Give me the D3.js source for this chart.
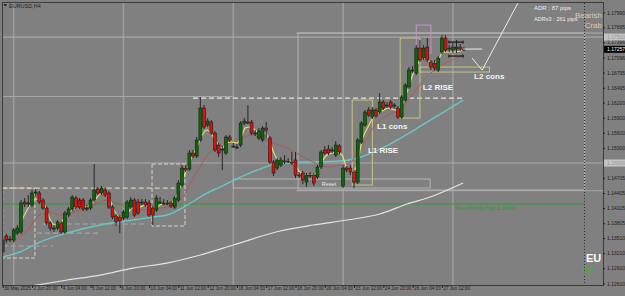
<!DOCTYPE html>
<html>
<head>
<meta charset="utf-8">
<script src="https://cdn.jsdelivr.net/npm/d3@7"></script>
<style>
  body { margin: 0; background: #808080; }
  svg { display: block; }
  text { font-family: "Liberation Sans", "DejaVu Sans", sans-serif; }
</style>
</head>
<body>
<div id="wrapper"></div>
<script>
// EURUSD H4, 30 May 2025 12:00 -> 30 Jun 2025 12:00 (127 bars)
const opens = [1.13233,1.13551,1.13491,1.13471,1.13610,1.13630,1.14225,1.14186,1.14166,1.14404,1.14404,1.14265,1.14106,1.13809,1.13709,1.13709,1.13809,1.13630,1.13967,1.14086,1.14305,1.14265,1.14265,1.14106,1.14106,1.14265,1.14483,1.14404,1.14464,1.14404,1.14126,1.13948,1.13928,1.13908,1.13928,1.14126,1.14265,1.14225,1.14225,1.14225,1.14206,1.14106,1.14067,1.14225,1.14206,1.14206,1.14206,1.14126,1.14265,1.14563,1.14900,1.14880,1.15198,1.15139,1.15456,1.16091,1.15754,1.15813,1.15595,1.15357,1.15258,1.15198,1.15516,1.15337,1.15317,1.15357,1.15793,1.15813,1.15813,1.15595,1.15496,1.15456,1.15694,1.15496,1.15019,1.14900,1.14960,1.15039,1.15039,1.15019,1.15059,1.14761,1.14801,1.14622,1.14761,1.14761,1.14722,1.14920,1.15258,1.15277,1.15258,1.15158,1.15337,1.14543,1.14900,1.14900,1.14821,1.14622,1.15416,1.15754,1.16052,1.15913,1.16052,1.16012,1.16210,1.16151,1.16210,1.16151,1.16091,1.15913,1.16250,1.16508,1.16846,1.16786,1.17282,1.17084,1.17302,1.17004,1.16984,1.16846,1.17203,1.17481,1.17282,1.17243,1.17262,1.17302,1.17262];
const highs = [1.13531,1.13590,1.13551,1.13709,1.13769,1.14265,1.14305,1.14364,1.14464,1.14483,1.14444,1.14305,1.14146,1.13848,1.13769,1.13868,1.13848,1.14047,1.14126,1.14364,1.14345,1.14305,1.14305,1.14166,1.14305,1.14980,1.14523,1.14543,1.14503,1.14444,1.14166,1.13987,1.13967,1.14067,1.14265,1.14325,1.14305,1.14285,1.14285,1.14285,1.14265,1.14146,1.14364,1.14325,1.14285,1.14265,1.14245,1.14345,1.14662,1.14960,1.14960,1.15258,1.15258,1.15516,1.16310,1.16151,1.15893,1.15853,1.15635,1.15397,1.15337,1.15555,1.15555,1.15397,1.15377,1.15833,1.15893,1.16151,1.15853,1.15655,1.15694,1.15734,1.15813,1.15535,1.15059,1.15099,1.15119,1.15158,1.15099,1.15218,1.15218,1.14821,1.14841,1.14801,1.14821,1.14801,1.14960,1.15258,1.15337,1.15357,1.15317,1.15436,1.15377,1.14960,1.14940,1.14960,1.14861,1.15496,1.15833,1.16052,1.16111,1.16111,1.16091,1.16389,1.16250,1.16210,1.16250,1.16190,1.16131,1.16349,1.16587,1.16905,1.16925,1.17342,1.17441,1.17342,1.17481,1.17044,1.17044,1.17123,1.17540,1.17540,1.17342,1.17381,1.17441,1.17362,1.17302];
const lows = [1.13173,1.13412,1.13431,1.13431,1.13570,1.13590,1.14126,1.14126,1.14126,1.14345,1.14186,1.14067,1.13769,1.13650,1.13630,1.13670,1.13590,1.13590,1.13928,1.14047,1.14086,1.14086,1.14047,1.14047,1.14067,1.14225,1.14364,1.14364,1.14325,1.14086,1.13888,1.13749,1.13610,1.13868,1.13888,1.14086,1.13928,1.13967,1.14166,1.14126,1.13928,1.13769,1.14027,1.14186,1.14166,1.14166,1.14106,1.14086,1.14225,1.14523,1.14821,1.14841,1.15099,1.15099,1.15416,1.15674,1.15714,1.15555,1.15218,1.15119,1.14861,1.15158,1.15416,1.15297,1.15277,1.15317,1.15754,1.15774,1.15555,1.15535,1.15456,1.15416,1.15496,1.14980,1.14742,1.14861,1.14920,1.14980,1.15000,1.14960,1.14702,1.14702,1.14583,1.14523,1.14702,1.14543,1.14682,1.14880,1.15158,1.15158,1.15198,1.15119,1.15178,1.14503,1.14821,1.14761,1.14503,1.14583,1.15377,1.15714,1.15913,1.15873,1.15893,1.15972,1.16052,1.16091,1.16071,1.16091,1.15873,1.15873,1.16210,1.16468,1.16786,1.16746,1.17004,1.17044,1.17004,1.16846,1.16826,1.16806,1.17163,1.17203,1.17203,1.17183,1.17183,1.17223,1.17223];
const closes = [1.13471,1.13471,1.13491,1.13670,1.13709,1.14206,1.14186,1.14206,1.14404,1.14424,1.14225,1.14106,1.13809,1.13709,1.13709,1.13828,1.13630,1.14007,1.14086,1.14325,1.14126,1.14126,1.14086,1.14106,1.14265,1.14464,1.14404,1.14503,1.14364,1.14126,1.13928,1.13828,1.13848,1.14027,1.14225,1.14265,1.13967,1.14007,1.14225,1.14166,1.13967,1.13967,1.14305,1.14225,1.14206,1.14206,1.14146,1.14305,1.14603,1.14900,1.14861,1.15198,1.15139,1.15456,1.16091,1.15714,1.15833,1.15595,1.15258,1.15198,1.15277,1.15516,1.15456,1.15337,1.15317,1.15793,1.15833,1.15813,1.15595,1.15595,1.15635,1.15694,1.15655,1.15019,1.14801,1.15059,1.15059,1.15039,1.15039,1.15019,1.14761,1.14761,1.14662,1.14761,1.14761,1.14603,1.14920,1.15218,1.15198,1.15198,1.15258,1.15357,1.15218,1.14900,1.14861,1.14821,1.14622,1.15456,1.15793,1.16012,1.15952,1.16052,1.15933,1.16210,1.16091,1.16151,1.16111,1.16151,1.15913,1.16310,1.16548,1.16846,1.16846,1.17282,1.17044,1.17282,1.17044,1.16905,1.16885,1.17084,1.17481,1.17243,1.17282,1.17302,1.17302,1.17262,1.17257];

// indicator lines: [bar, price]
const maFast = [[5,1.13828],[7.5,1.14166],[9,1.14285],[10.5,1.14265],[12,1.14067],[13,1.13868],[14.3,1.13769],[15.6,1.13809],[17,1.13908],[18.4,1.14027],[19.8,1.14126],[21,1.14166],[22.5,1.14126],[23.9,1.14166],[25.2,1.14265],[26.6,1.14384],[28,1.14404],[29.3,1.14265],[30.7,1.14027],[32,1.13928],[33.4,1.13967],[34.8,1.14067],[36.1,1.14126],[37.5,1.14126],[38.9,1.14166],[40.2,1.14106],[41.6,1.14086],[43,1.14166],[44.3,1.14206],[45.7,1.14186],[47.6,1.14364],[49,1.14622],[50.4,1.14900],[51.7,1.15119],[53.1,1.15317],[54.5,1.15555],[55.8,1.15655],[57.2,1.15555],[58.6,1.15397],[59.9,1.15297],[61.3,1.15397],[62.6,1.15416],[64,1.15397],[65.4,1.15555],[66.2,1.15694],[67.6,1.15714],[68.9,1.15655],[70.3,1.15595],[71.7,1.15595],[73,1.15416],[74,1.15218],[75.2,1.15059],[76.6,1.15019],[78.5,1.15039],[79.9,1.14960],[81.2,1.14821],[83.1,1.14761],[84.5,1.14761],[85.9,1.14821],[87.2,1.15019],[88.6,1.15158],[90,1.15198],[91.3,1.15218],[92.7,1.15158],[94,1.14900],[95.4,1.14821],[96.8,1.14960],[98.2,1.15456],[99.8,1.15714],[101.7,1.15952],[103.6,1.16032],[105.3,1.16091],[107.2,1.16052],[109.1,1.16151],[110.5,1.16409],[111.8,1.16707],[113.2,1.16945],[114.6,1.17084],[116,1.17044],[117.6,1.16984],[119,1.17044],[120.3,1.17203],[121.7,1.17203],[123.6,1.17203],[125.8,1.17243]];
const maMid = [[2,1.13372],[4.7,1.13531],[7.5,1.13729],[9.4,1.13928],[12.9,1.14027],[15.7,1.13967],[18.4,1.14007],[21.1,1.14067],[24.7,1.14166],[28.5,1.14265],[31.2,1.14206],[35.6,1.14067],[39.4,1.14067],[43,1.14106],[46.5,1.14146],[48.4,1.14265],[50.4,1.14464],[52,1.14702],[53.9,1.14920],[55.8,1.15158],[57.5,1.15258],[59.4,1.15317],[62.1,1.15397],[64.8,1.15456],[67.6,1.15555],[70.3,1.15516],[73.8,1.15397],[77.7,1.15297],[81.2,1.15158],[84.8,1.15019],[88.6,1.14920],[92.2,1.14960],[94.9,1.15000],[97,1.15218],[99,1.15416],[101.7,1.15754],[105.3,1.15952],[109.1,1.16091],[111.8,1.16349],[114.6,1.16607],[117.3,1.16806],[120,1.16945],[122.8,1.17044],[125.8,1.17143]];
const maSlow = [[0,1.13134],[4.7,1.13233],[10.2,1.13431],[17.6,1.13610],[26.6,1.13769],[35.6,1.13868],[41.1,1.13928],[44.9,1.13967],[50.4,1.14166],[55.8,1.14404],[59.4,1.14523],[66.2,1.14761],[70.3,1.14880],[75.8,1.14999],[83.1,1.15019],[92,1.15039],[96,1.15079],[105.3,1.15357],[114.6,1.15754],[125.8,1.16250]];
const ma200 = [[0,1.12459],[9.4,1.12578],[17.6,1.12677],[26.6,1.12776],[35.6,1.12915],[44.9,1.13014],[54,1.13173],[63,1.13372],[75.8,1.13650],[84.8,1.13769],[94.1,1.13868],[103,1.13987],[110.5,1.14186],[116.8,1.14325],[125.8,1.14603]];

const timeTickBars = [0,8,16,24,32,40,48,56,64,72,80,88,96,104,112,120];
const timeTickLabels = ["30 May 2025","2 Jun 20:00","4 Jun 04:00","5 Jun 12:00","6 Jun 20:00","10 Jun 04:00","11 Jun 12:00","12 Jun 20:00","16 Jun 04:00","17 Jun 12:00","18 Jun 20:00","20 Jun 04:00","23 Jun 12:00","24 Jun 20:00","26 Jun 04:00","27 Jun 12:00"];
const priceTicks = [1.17990,1.17695,1.17396,1.17096,1.16795,1.16495,1.16200,1.15900,1.15600,1.15300,1.14705,1.14405,1.14105,1.13805,1.13510,1.13210,1.12910,1.12610];
const weekStarts = [3,33,63,93,123];

const dims = { width: 625, height: 296, left: 3, right: 603, top: 3, bottom: 285 };

const svg = d3.select("#wrapper").append("svg")
  .attr("width", dims.width)
  .attr("height", dims.height);

svg.append("rect").attr("width", dims.width).attr("height", dims.height).attr("fill", "#808080");

const x = d3.scaleLinear().domain([0, 126]).range([2.7, 2.7 + 126 * 3.66]);
const y = d3.scaleLinear().domain([1.12610, 1.17990]).range([283.4, 12.4]);

svg.append("clipPath").attr("id", "clip")
  .append("rect")
  .attr("x", dims.left).attr("y", dims.top)
  .attr("width", dims.right - dims.left).attr("height", dims.bottom - dims.top);

const bounds = svg.append("g").attr("clip-path", "url(#clip)");

// weekly separators
bounds.selectAll(".sep").data(weekStarts).join("line")
  .attr("x1", d => x(d)).attr("x2", d => x(d))
  .attr("y1", dims.top).attr("y2", dims.bottom)
  .attr("stroke", "#9c9c9c").attr("stroke-width", 1.6);

// horizontal levels
const hLines = [
  { p: 1.17500, x0: 0, x1: 170, color: "#b0b0b0" },
  { p: 1.17580, x0: 81, x1: 170, color: "#b0b0b0" },
  { p: 1.16320, x0: 0, x1: 63, color: "#a8a8a8" },
  { p: 1.15000, x0: 0, x1: 170, color: "#ababab" },
  { p: 1.14450, x0: 81, x1: 170, color: "#a8a8a8" }
];
bounds.selectAll(".hl").data(hLines).join("line")
  .attr("x1", d => x(d.x0) - 3).attr("x2", d => Math.min(x(d.x1), dims.right))
  .attr("y1", d => y(d.p)).attr("y2", d => y(d.p))
  .attr("stroke", d => d.color).attr("stroke-width", 1);

// dashed zones
const dashed = [
  { b0: 0, b1: 8.8, p0: 1.14503, p1: 1.13114, color: "#ddd0c0" },
  { b0: 40.8, b1: 49.8, p0: 1.14980, p1: 1.13749, color: "#ddd0c0" }
];
bounds.selectAll(".dz").data(dashed).join("rect")
  .attr("x", d => x(d.b0)).attr("y", d => y(d.p0))
  .attr("width", d => x(d.b1) - x(d.b0)).attr("height", d => y(d.p1) - y(d.p0))
  .attr("fill", "none").attr("stroke", d => d.color)
  .attr("stroke-width", 1).attr("stroke-dasharray", "4,2");

const dashLines = [
  { b0: 0, b1: 47, p: 1.14503, color: "#ddd0c0" },
  { b0: 52, b1: 126, p: 1.16290, color: "#e6e6e6" },
  { b0: 11, b1: 39.5, p: 1.13789, color: "#a6a6a6" },
  { b0: 9.4, b1: 26.6, p: 1.13610, color: "#a6a6a6" },
  { b0: 0, b1: 13.7, p: 1.13352, color: "#a6a6a6" }
];
bounds.selectAll(".dl").data(dashLines).join("line")
  .attr("x1", d => x(d.b0)).attr("x2", d => x(d.b1))
  .attr("y1", d => y(d.p)).attr("y2", d => y(d.p))
  .attr("stroke", d => d.color).attr("stroke-width", 1.2).attr("stroke-dasharray", "5,3");

// boxes
const boxes = [
  { b0: 63, b1: 116.8, p0: 1.14682, p1: 1.14503, color: "#b4b4b4" },
  { b0: 80.7, b1: 159, p0: 1.17580, p1: 1.14464, color: "#b4b4b4" },
  { b0: 95.5, b1: 101, p0: 1.16250, p1: 1.14563, color: "#c8c080" },
  { b0: 108.6, b1: 114, p0: 1.17481, p1: 1.15893, color: "#c8c080" },
  { b0: 114, b1: 133, p0: 1.16905, p1: 1.16806, color: "#c8c080" },
  { b0: 113, b1: 117, p0: 1.17739, p1: 1.17183, color: "#c890c8" }
];
bounds.selectAll(".bx").data(boxes).join("rect")
  .attr("x", d => x(d.b0)).attr("y", d => y(d.p0))
  .attr("width", d => x(d.b1) - x(d.b0)).attr("height", d => y(d.p1) - y(d.p0))
  .attr("fill", "none").attr("stroke", d => d.color).attr("stroke-width", 1);

// prev monthly high
bounds.append("line")
  .attr("x1", dims.left).attr("x2", x(158.8))
  .attr("y1", y(1.14186)).attr("y2", y(1.14186))
  .attr("stroke", "#2f9a2f").attr("stroke-width", 1);

// moving averages
const line = d3.line().x(d => x(d[0])).y(d => y(d[1])).curve(d3.curveMonotoneX);
bounds.append("path").attr("d", line(ma200)).attr("fill", "none").attr("stroke", "#e4e4e4").attr("stroke-width", 1.2);
bounds.append("path").attr("d", line(maSlow)).attr("fill", "none").attr("stroke", "#6cc4c4").attr("stroke-width", 1.4);
bounds.append("path").attr("d", line(maMid)).attr("fill", "none").attr("stroke", "#b05858").attr("stroke-width", 1);
bounds.append("path").attr("d", line(maFast)).attr("fill", "none").attr("stroke", "#ece468").attr("stroke-width", 1.1);

// candles
const bars = opens.map((o, i) => ({ i, o, h: highs[i], l: lows[i], c: closes[i] }));
const candles = bounds.append("g");
candles.selectAll(".wick").data(bars).join("line")
  .attr("x1", d => x(d.i)).attr("x2", d => x(d.i))
  .attr("y1", d => y(d.h)).attr("y2", d => y(d.l))
  .attr("stroke", "#262626").attr("stroke-width", 1);
candles.selectAll(".body").data(bars).join("rect")
  .attr("x", d => x(d.i) - 1.45)
  .attr("y", d => y(Math.max(d.o, d.c)))
  .attr("width", 2.9)
  .attr("height", d => Math.max(1, Math.abs(y(d.o) - y(d.c))))
  .attr("fill", d => d.c >= d.o ? "#0a6a0a" : "#e01010")
  .attr("stroke", "#1a1a1a").attr("stroke-width", 0.6);

// drawn lines on the right
const whiteLines = [
  [[125.8, 1.17262], [131, 1.17262]],
  [[128.2, 1.17084], [131, 1.16845], [140.8, 1.18180]]
];
bounds.selectAll(".wl").data(whiteLines).join("path")
  .attr("d", d3.line().x(d => x(d[0])).y(d => y(d[1])))
  .attr("fill", "none").attr("stroke", "#ececec").attr("stroke-width", 1);

// black range brackets around the last bars
const brackets = [1.17401, 1.17123];
const bracketBars = [121.9, 125.8];
brackets.forEach(p => {
  bounds.append("line").attr("x1", x(bracketBars[0])).attr("x2", x(bracketBars[1]))
    .attr("y1", y(p)).attr("y2", y(p)).attr("stroke", "#111").attr("stroke-width", 1.2);
  bracketBars.forEach(b => {
    bounds.append("line").attr("x1", x(b)).attr("x2", x(b))
      .attr("y1", y(p) - 1.5).attr("y2", y(p) + 1.5).attr("stroke", "#111").attr("stroke-width", 1);
  });
});

// dotted shift line
bounds.append("line").attr("x1", 584.5).attr("x2", 584.5)
  .attr("y1", dims.top).attr("y2", dims.bottom)
  .attr("stroke", "#303030").attr("stroke-width", 1).attr("stroke-dasharray", "1,2");

// labels on the chart
const notes = [
  { t: "L1 RISE", b: 99.8, p: 1.15258 },
  { t: "L1 cons", b: 102.3, p: 1.15734 },
  { t: "L2 RISE", b: 114.8, p: 1.16508 },
  { t: "L2 cons", b: 128.8, p: 1.16726 }
];
svg.selectAll(".note").data(notes).join("text")
  .attr("x", d => x(d.b)).attr("y", d => y(d.p))
  .attr("dy", "0.35em")
  .attr("font-size", 8).attr("font-weight", "bold").attr("fill", "#f4f4f4")
  .text(d => d.t);

svg.append("text").attr("x", x(87.2)).attr("y", y(1.14583)).attr("dy", "0.35em")
  .attr("font-size", 5.5).attr("fill", "#e8e8e8").text("Reset");
svg.append("text").attr("x", x(123.6)).attr("y", y(1.14106)).attr("dy", "0.35em")
  .attr("font-size", 5).attr("fill", "#2f9a2f").text("Prev Monthly High 1.14186");

svg.append("text").attr("x", 534).attr("y", 10).attr("font-size", 6).attr("fill", "#ededed").text("ADR : 87 pips");
svg.append("text").attr("x", 534).attr("y", 21).attr("font-size", 5.6).attr("fill", "#ededed").text("ADRx3 : 261 pips");
svg.append("text").attr("x", 602).attr("y", 18).attr("text-anchor", "end").attr("font-size", 8).attr("fill", "#dccbb4").text("Bearish");
svg.append("text").attr("x", 602).attr("y", 28).attr("text-anchor", "end").attr("font-size", 8).attr("fill", "#dccbb4").text("Crab");
svg.append("text").attr("x", 586).attr("y", 262).attr("font-size", 11).attr("font-weight", "bold").attr("fill", "#ffffff").text("EU");
svg.append("text").attr("x", 583).attr("y", 274).attr("font-size", 8.5).attr("fill", "#33bb33").text("0.0");

// title
svg.append("path").attr("d", "M3.5,4.2 L7,4.2 L5.25,6.4 Z").attr("fill", "#111");
svg.append("text").attr("x", 9).attr("y", 7.5).attr("font-size", 5.5).attr("fill", "#222").text("EURUSD,H4");

// frame
svg.append("rect").attr("x", 2.5).attr("y", 2.5).attr("width", 601).attr("height", 283)
  .attr("fill", "none").attr("stroke", "#3c3c3c").attr("stroke-width", 1);

// axes
const xAxis = d3.axisBottom(x).tickValues(timeTickBars)
  .tickFormat((d, i) => timeTickLabels[i]).tickSize(3);
const gx = svg.append("g").attr("transform", `translate(0,${dims.bottom})`).call(xAxis);
gx.select(".domain").remove();
gx.selectAll("line").attr("stroke", "#222");
gx.selectAll("text").attr("text-anchor", "start").attr("dx", 1).attr("y", 1.5)
  .attr("font-size", 4.6).attr("fill", "#1c1c1c");

const yAxis = d3.axisRight(y).tickValues(priceTicks).tickFormat(d3.format(".5f")).tickSize(2);
const gy = svg.append("g").attr("transform", `translate(${dims.right},0)`).call(yAxis);
gy.select(".domain").remove();
gy.selectAll("line").attr("stroke", "#222");
gy.selectAll("text").attr("x", 4).attr("font-size", 5).attr("fill", "#1c1c1c");

// highlighted price tags
const tags = [
  { p: 1.17500, t: "1.17500", bg: "#c4c4c4", fg: "#9a9a9a" },
  { p: 1.15000, t: "1.15000", bg: "#c4c4c4", fg: "#9a9a9a" },
  { p: 1.17257, t: "1.17257", bg: "#000000", fg: "#ffffff" }
];
const tg = svg.selectAll(".tag").data(tags).join("g")
  .attr("transform", d => `translate(${dims.right + 1},${y(d.p)})`);
tg.append("rect").attr("x", 0).attr("y", -3.5).attr("width", 21).attr("height", 7).attr("fill", d => d.bg);
tg.append("text").attr("x", 3).attr("dy", "0.35em").attr("font-size", 5).attr("fill", d => d.fg).text(d => d.t);
</script>
</body>
</html>
